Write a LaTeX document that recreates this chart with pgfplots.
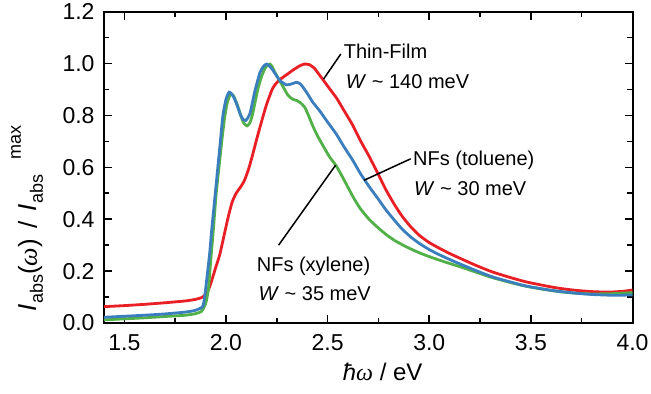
\documentclass[border=0pt]{standalone}
\usepackage{fontspec}
\setmainfont{Liberation Sans}
\newfontfamily\greekserif{Liberation Serif}
\usepackage{pgfplots}
\pgfplotsset{compat=1.18}

\definecolor{filmred}{RGB}{232,32,38}
\definecolor{tolblue}{RGB}{58,126,190}
\definecolor{xylgreen}{RGB}{82,176,72}

\newcommand{\omg}{{\greekserif\itshape ω}}
\newcommand{\idx}[1]{{\fontsize{9}{9}\selectfont #1}}

\begin{document}
\begin{tikzpicture}
\begin{axis}[
  scale only axis,
  width=264.25pt, height=155.65pt,
  xmin=1.4, xmax=4.0, ymin=0, ymax=1.2,
  xtick={1.5,2.0,2.5,3.0,3.5,4.0},
  ytick={0,0.2,0.4,0.6,0.8,1.0,1.2},
  minor x tick num=1, minor y tick num=1,
  tick align=inside,
  major tick length=4pt, minor tick length=2.6pt,
  every tick/.style={black, line width=0.8pt},
  axis line style={line width=1pt},
  /pgf/number format/assume math mode=true,
  /pgf/number format/.cd, fixed, fixed zerofill, precision=1, /pgfplots/.cd,
  tick label style={font=\fontsize{11.5}{13}\selectfont},
  xticklabel style={yshift=-2.3pt},
  yticklabel style={xshift=-1.2pt},
  every axis plot/.append style={line width=1.4pt, smooth, tension=0.35},
  clip=false,
]
% thin film
\addplot[filmred] coordinates {
(1.40,0.063) (1.50,0.067) (1.60,0.072) (1.70,0.078) (1.80,0.085) (1.85,0.091)
(1.88,0.098) (1.90,0.110) (1.92,0.140) (1.95,0.215) (1.97,0.265) (1.99,0.335)
(2.01,0.405) (2.03,0.465) (2.05,0.500) (2.07,0.522) (2.09,0.548) (2.11,0.590)
(2.13,0.645) (2.155,0.720) (2.18,0.790) (2.20,0.843) (2.23,0.905) (2.26,0.935)
(2.30,0.958) (2.33,0.975) (2.36,0.990) (2.385,0.998) (2.41,0.996) (2.435,0.982)
(2.461,0.955) (2.51,0.903) (2.545,0.866) (2.58,0.820) (2.624,0.762) (2.66,0.705)
(2.706,0.640) (2.75,0.572) (2.788,0.512) (2.83,0.455) (2.869,0.409) (2.91,0.370)
(2.951,0.338) (3.00,0.310) (3.05,0.288) (3.10,0.268) (3.147,0.251) (3.23,0.222)
(3.31,0.197) (3.40,0.175) (3.474,0.159) (3.56,0.145) (3.637,0.134) (3.72,0.126)
(3.80,0.121) (3.88,0.119) (3.95,0.122) (4.00,0.127)
};
% nanofibres from xylene
\addplot[xylgreen] coordinates {
(1.40,0.012) (1.50,0.016) (1.60,0.020) (1.70,0.025) (1.80,0.030) (1.85,0.036)
(1.88,0.045) (1.90,0.075) (1.913,0.127) (1.925,0.240) (1.938,0.360) (1.952,0.500)
(1.967,0.610) (1.98,0.705) (1.993,0.790) (2.005,0.845) (2.018,0.875) (2.028,0.883)
(2.04,0.872) (2.06,0.832) (2.075,0.795) (2.088,0.770) (2.104,0.760) (2.118,0.772)
(2.131,0.805) (2.145,0.858) (2.158,0.905) (2.175,0.950) (2.191,0.980) (2.205,0.995)
(2.216,0.998) (2.228,0.987) (2.24,0.967) (2.273,0.922) (2.305,0.878) (2.33,0.862)
(2.347,0.858) (2.365,0.850) (2.387,0.832) (2.405,0.802) (2.428,0.758) (2.45,0.722)
(2.48,0.680) (2.51,0.640) (2.543,0.605) (2.58,0.553) (2.624,0.488) (2.66,0.442)
(2.706,0.398) (2.75,0.366) (2.788,0.341) (2.83,0.318) (2.886,0.294) (2.95,0.271)
(3.00,0.256) (3.07,0.237) (3.147,0.218) (3.23,0.196) (3.31,0.175) (3.40,0.156)
(3.474,0.142) (3.56,0.130) (3.637,0.121) (3.72,0.115) (3.80,0.112) (3.90,0.113)
(4.00,0.117)
};
% nanofibres from toluene
\addplot[tolblue] coordinates {
(1.40,0.022) (1.50,0.026) (1.60,0.030) (1.70,0.035) (1.80,0.042) (1.85,0.049)
(1.885,0.063) (1.895,0.100) (1.905,0.165) (1.92,0.270) (1.93,0.360) (1.95,0.520)
(1.97,0.680) (1.985,0.800) (2.00,0.862) (2.016,0.890) (2.035,0.875) (2.052,0.845)
(2.07,0.805) (2.084,0.785) (2.098,0.781) (2.118,0.807) (2.142,0.893) (2.167,0.965)
(2.185,0.990) (2.20,0.998) (2.215,0.990) (2.232,0.973) (2.265,0.935) (2.298,0.918)
(2.325,0.922) (2.347,0.928) (2.365,0.922) (2.379,0.909) (2.40,0.885) (2.428,0.850)
(2.461,0.818) (2.494,0.781) (2.543,0.728) (2.58,0.680) (2.624,0.627) (2.66,0.578)
(2.706,0.524) (2.75,0.477) (2.788,0.435) (2.83,0.395) (2.869,0.360) (2.91,0.331)
(2.951,0.307) (3.00,0.283) (3.05,0.263) (3.10,0.245) (3.147,0.229) (3.23,0.202)
(3.31,0.178) (3.40,0.158) (3.474,0.143) (3.56,0.131) (3.637,0.122) (3.72,0.115)
(3.80,0.110) (3.90,0.107) (4.00,0.108)
};

% pointer lines and captions
\draw[line width=0.75pt] (axis cs:2.48,0.94) -- (axis cs:2.565,1.037);
\draw[line width=0.75pt] (axis cs:2.679,0.55) -- (axis cs:2.909,0.633);
\draw[line width=0.75pt] (axis cs:2.539,0.608) -- (axis cs:2.259,0.30);
\begingroup
\fontsize{12}{14}\selectfont
\node[anchor=base west, inner sep=0pt] at (axis cs:2.578,1.018) {Thin-Film};
\node[anchor=base west, inner sep=0pt] at (axis cs:2.588,0.903) {\textit{W} \textasciitilde{} 140 meV};
\node[anchor=base west, inner sep=0pt] at (axis cs:2.919,0.608) {NFs (toluene)};
\node[anchor=base west, inner sep=0pt] at (axis cs:2.924,0.492) {\textit{W} \textasciitilde{} 30 meV};
\node[anchor=base west, inner sep=0pt] at (axis cs:2.150,0.197) {NFs (xylene)};
\node[anchor=base west, inner sep=0pt] at (axis cs:2.159,0.086) {\textit{W} \textasciitilde{} 35 meV};
\endgroup

% axis titles
\node[anchor=base, inner sep=0pt, font=\fontsize{12}{14}\selectfont]
  at ([yshift=-29pt]axis cs:2.771,0) {\textit{ħ}\omg{} / eV};
\node[anchor=base, inner sep=0pt, rotate=90, font=\fontsize{13}{15}\selectfont]
  at ([xshift=-33.5pt]axis cs:1.4,0.404)
  {\textit{I}\raisebox{-3pt}{\idx{abs}}(\omg)\hspace{0.4em}/\hspace{0.4em}\textit{I}\raisebox{-3pt}{\idx{abs}}\hspace{0.6em}\raisebox{8pt}{\idx{max}}};
\end{axis}
\pgfresetboundingbox
\path ([shift={(-52pt,-35.5pt)}]current axis.south west) rectangle ([shift={(9.25pt,5.85pt)}]current axis.north east);
\end{tikzpicture}
\end{document}
